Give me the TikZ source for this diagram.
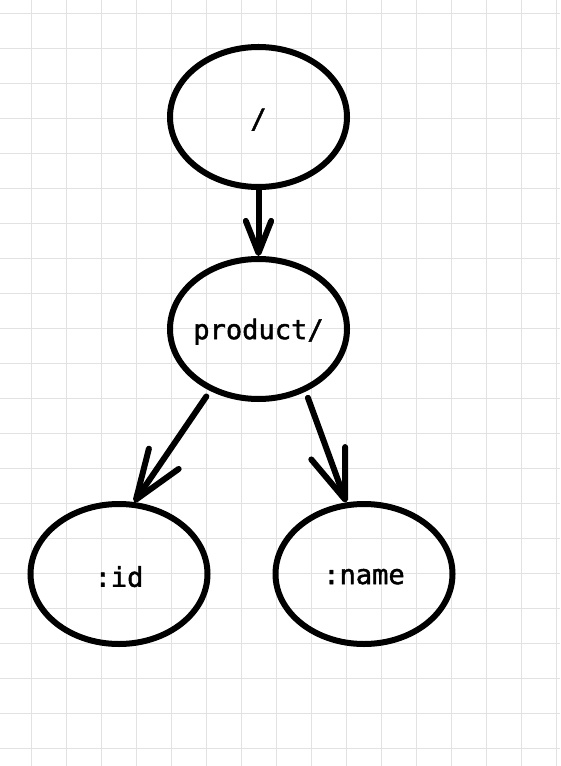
\documentclass[tikz,border=0pt]{standalone}
\usepackage{fontspec}
\setmonofont{DejaVu Sans Mono}[FakeBold=1.6]
\usetikzlibrary{shapes.geometric,arrows.meta}
\tikzset{
  ell/.style={draw=black, line width=4.5pt, ellipse, minimum width=132.75pt, minimum height=105pt, inner sep=0pt, font=\ttfamily\fontsize{20.3pt}{22pt}\selectfont},
  lbl/.style={font=\ttfamily\fontsize{20.3pt}{22pt}\selectfont, inner sep=0pt, yshift=-2pt},
  gridline/.style={draw={rgb,255:red,226;green,226;blue,226}, line width=0.9pt},
  arrlong/.style={line width=4.5pt, line cap=round, -{Straight Barb[length=37pt,width=27pt,round]}},
  arrshort/.style={line width=4.5pt, line cap=round, -{Straight Barb[length=24pt,width=19pt,round]}}
}
\begin{document}
\begin{tikzpicture}[x=0.75pt,y=-0.75pt]
\fill[white] (0,0) rectangle (560,766);
\useasboundingbox (0,0) rectangle (560,766);
\foreach \i in {0,...,15} {\draw[gridline] ({31.7+35*\i},0) -- ({31.7+35*\i},766);}
\foreach \j in {0,...,21} {\draw[gridline] (0,{13.3+35*\j}) -- (560,{13.3+35*\j});}
\node[ell] (root) at (258.5,117) {};
\node[ell] (prod) at (258.5,329) {};
\node[ell] (id) at (119,574) {};
\node[ell] (name) at (364,574) {};
\node[lbl] (rootl) at (root) {/};
\node[lbl] (prodl) at (prod) {product/};
\node[lbl] (idl) at (id) {:id};
\node[lbl] (namel) at (name) {:name};
\draw[arrshort] (root) -- (prod);
\draw[arrlong, shorten <=5pt] (prod.232.9) -- (id.78.2);
\draw[arrlong, shorten <=5pt] (prod.307.7) -- (name.104);
\end{tikzpicture}
\end{document}
